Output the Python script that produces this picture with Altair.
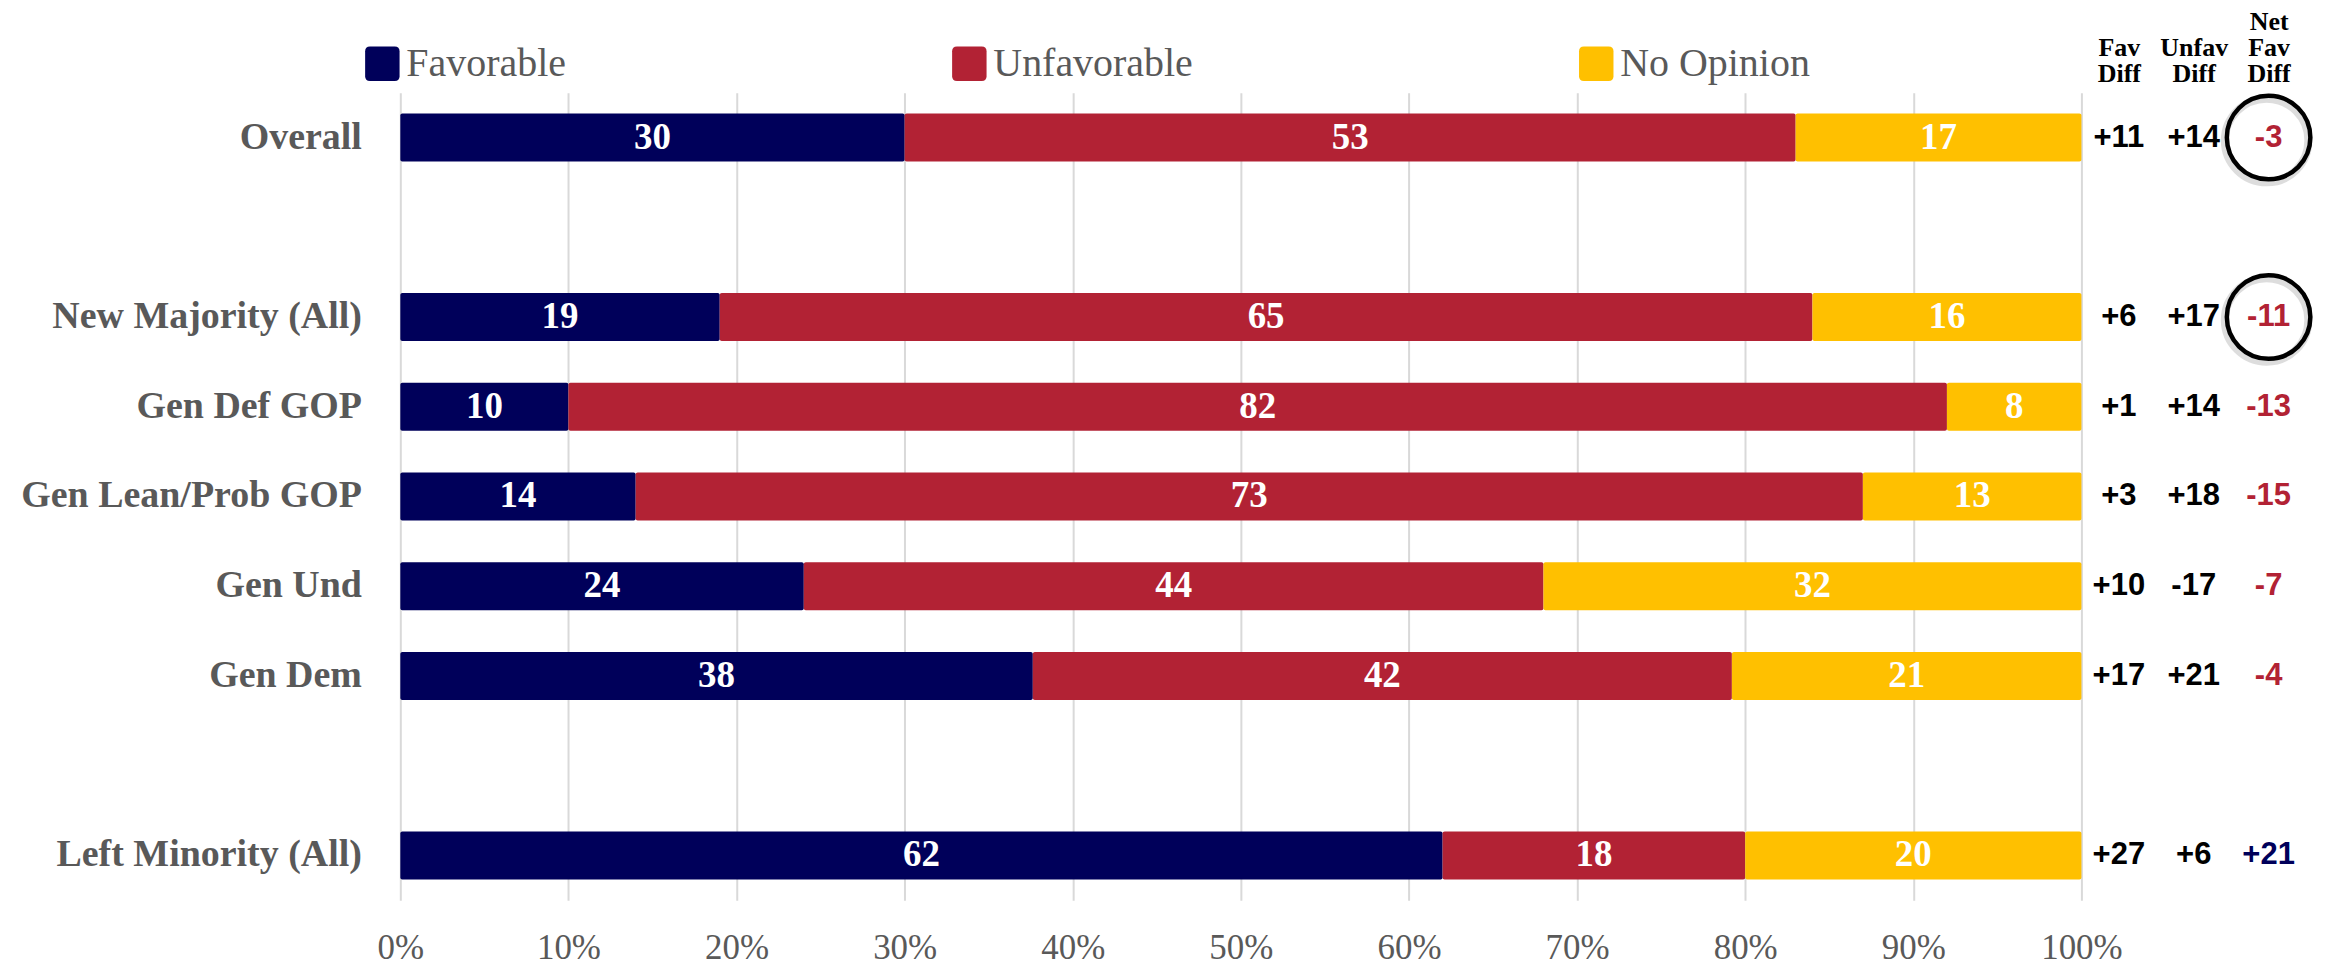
import altair as alt
import pandas as pd

groups = ["Overall", "New Majority (All)", "Gen Def GOP", "Gen Lean/Prob GOP",
          "Gen Und", "Gen Dem", "Left Minority (All)"]
favorable = [30, 19, 10, 14, 24, 38, 62]
unfavorable = [53, 65, 82, 73, 44, 42, 18]
no_opinion = [17, 16, 8, 13, 32, 21, 20]

fav_diff = ["+11", "+6", "+1", "+3", "+10", "+17", "+27"]
unfav_diff = ["+14", "+17", "+14", "+18", "-17", "+21", "+6"]
net_fav_diff = ["-3", "-11", "-13", "-15", "-7", "-4", "+21"]
circled = [True, True, False, False, False, False, False]

row_order = ["Overall", " ", "New Majority (All)", "Gen Def GOP", "Gen Lean/Prob GOP",
             "Gen Und", "Gen Dem", "  ", "Left Minority (All)"]
series = ["Favorable", "Unfavorable", "No Opinion"]
series_colors = ["#00005A", "#B22234", "#FFC000"]
x_ticks = [0, 0.1, 0.2, 0.3, 0.4, 0.5, 0.6, 0.7, 0.8, 0.9, 1.0]
diff_columns = ["Fav Diff", "Unfav Diff", "Net Fav Diff"]

SERIF = "Liberation Serif"
SANS = "Liberation Sans"
GRAY = "#595959"

# long table for bars
rows = []
for i, g in enumerate(groups):
    for k, (s, vals) in enumerate(zip(series, [favorable, unfavorable, no_opinion])):
        rows.append({"group": g, "series": s, "value": vals[i], "order": k})
df = pd.DataFrame(rows)

# table for right-hand columns
rows2 = []
for i, g in enumerate(groups):
    for col, vals in zip(diff_columns, [fav_diff, unfav_diff, net_fav_diff]):
        v = vals[i]
        if col == "Net Fav Diff":
            tone = "neg" if v.startswith("-") else "pos"
        else:
            tone = "neutral"
        rows2.append({"group": g, "col": col, "label": v, "tone": tone,
                      "circled": bool(circled[i] and col == "Net Fav Diff")})
df2 = pd.DataFrame(rows2)

rounded_square = ("M -0.72 -1 L 0.72 -1 Q 1 -1 1 -0.72 L 1 0.72 Q 1 1 0.72 1 "
                  "L -0.72 1 Q -1 1 -1 0.72 L -1 -0.72 Q -1 -1 -0.72 -1 Z")

y_scale = alt.Scale(domain=row_order, paddingInner=0.466, paddingOuter=0.233)

base = alt.Chart(df).transform_stack(
    stack="value", groupby=["group"], as_=["x0", "x1"], offset="normalize",
    sort=[alt.SortField("order", order="ascending")]
)

bars = base.mark_bar(cornerRadius=2).encode(
    y=alt.Y("group:N", scale=y_scale, title=None,
            axis=alt.Axis(ticks=False, domain=False, labelFont=SERIF, labelFontSize=38,
                          labelFontWeight="bold", labelColor=GRAY, labelPadding=39,
                          labelLimit=1000)),
    x=alt.X("x0:Q", scale=alt.Scale(domain=[0, 1]), title=None,
            axis=alt.Axis(values=x_ticks, format=".0%", grid=True, gridColor="#D9D9D9",
                          gridWidth=2, ticks=False, tickSize=0, domain=False,
                          labelFont=SERIF, labelFontSize=35, labelColor=GRAY,
                          labelPadding=30, labelFlush=False)),
    x2="x1:Q",
    color=alt.Color("series:N", scale=alt.Scale(domain=series, range=series_colors),
                    legend=alt.Legend(title=None, orient="none", legendX=-38, legendY=-49,
                                      direction="horizontal", symbolType=rounded_square,
                                      symbolSize=1190, symbolStrokeWidth=0, symbolOpacity=1,
                                      labelFont=SERIF, labelFontSize=40, labelColor=GRAY,
                                      labelOffset=4, columnPadding=384, padding=0,
                                      labelLimit=1000)),
)

labels = base.transform_calculate(mid="(datum.x0 + datum.x1) / 2").mark_text(
    color="white", font=SERIF, fontWeight="bold", fontSize=37, baseline="middle"
).encode(
    x="mid:Q",
    y=alt.Y("group:N", scale=y_scale),
    text="value:Q",
)

left = alt.layer(bars, labels).properties(width=1684, height=809)

x2_scale = alt.Scale(domain=diff_columns, paddingInner=0, paddingOuter=0)
y2 = alt.Y("group:N", scale=y_scale, axis=None)

header_expr = ("length(split(datum.value, ' ')) == 3 ? split(datum.value, ' ') "
               ": split(' ' + datum.value, ' ')")

diff_text = alt.Chart(df2).mark_text(
    font=SANS, fontWeight="bold", fontSize=31, baseline="middle"
).encode(
    x=alt.X("col:N", scale=x2_scale, title=None,
            axis=alt.Axis(orient="top", labelExpr=header_expr,
                          labelFont=SERIF, labelFontWeight="bold", labelFontSize=26,
                          labelColor="black", labelLineHeight=26, labelPadding=58,
                          labelBaseline="bottom", labelAlign="center", labelAngle=0,
                          ticks=False, domain=False, labelLimit=1000)),
    y=y2,
    text="label:N",
    color=alt.Color("tone:N", scale=alt.Scale(domain=["neutral", "neg", "pos"],
                                              range=["#000000", "#B22234", "#00005A"]),
                    legend=None),
)

shadow = alt.Chart(df2).transform_filter("datum.circled").mark_point(
    shape="circle", filled=False, size=7000, strokeWidth=8, color="#000000",
    opacity=0.13, xOffset=-2, yOffset=3
).encode(x=alt.X("col:N", scale=x2_scale), y=y2)

rings = alt.Chart(df2).transform_filter("datum.circled").mark_point(
    shape="circle", filled=False, size=7000, strokeWidth=4.5, color="#000000", opacity=1
).encode(x=alt.X("col:N", scale=x2_scale), y=y2)

right = alt.layer(shadow, rings, diff_text).properties(width=225, height=809)

chart = alt.hconcat(left, right, spacing=0, bounds="flush").resolve_scale(
    color="independent", x="independent", y="independent"
).resolve_legend(color="independent").properties(
    padding={"left": 12, "top": 0, "right": 0, "bottom": 0}
).configure_view(strokeWidth=0)

chart.save("out.html", embed_options={"renderer": "svg", "actions": False})
